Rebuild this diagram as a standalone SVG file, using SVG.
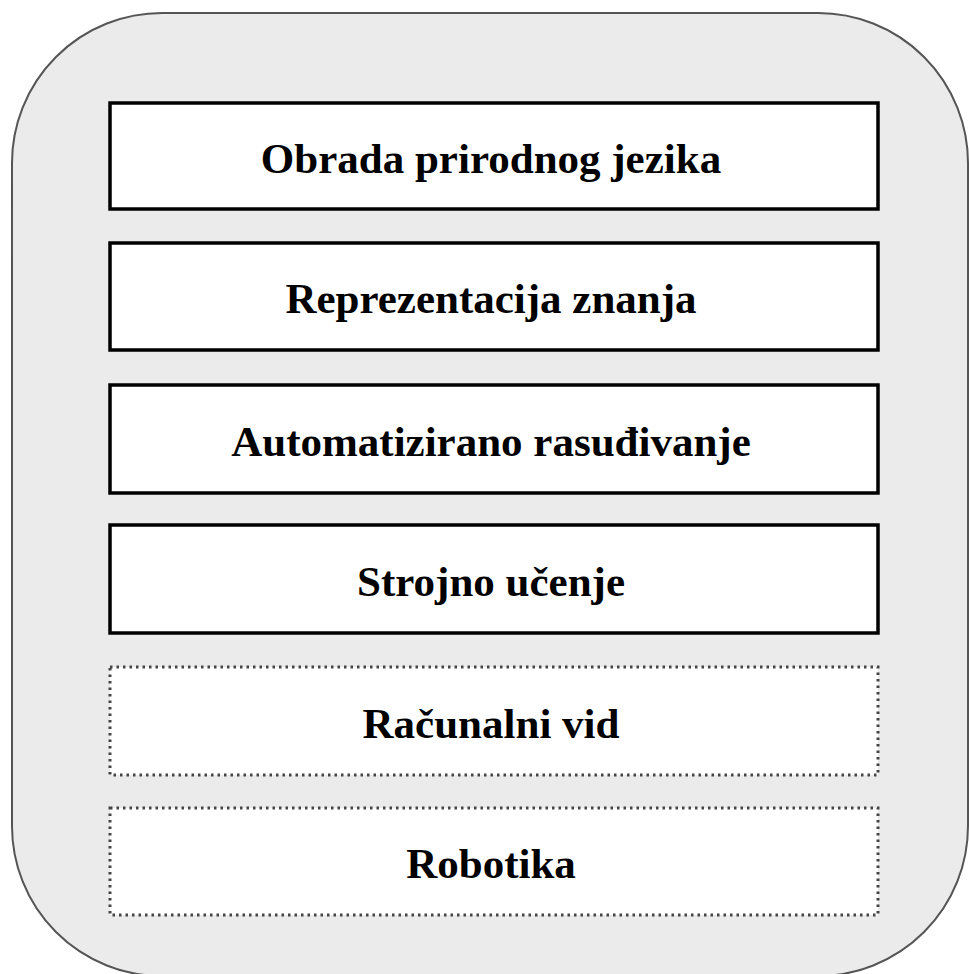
<svg xmlns="http://www.w3.org/2000/svg" width="969" height="974" viewBox="0 0 969 974">
<style>
.solid{fill:#fff;stroke:#000;stroke-width:3.5}
.dotted{fill:#fff;stroke:#444;stroke-width:3;stroke-dasharray:2.5 4}
.lbl{font-family:"Liberation Serif","Times New Roman",serif;font-weight:bold;font-size:43px;fill:#000;text-anchor:middle}
</style>
<rect width="969" height="974" fill="#fff"/>
<g id="container">
<rect x="12" y="13" width="956" height="963" rx="150" ry="150" fill="#ebebeb" stroke="#555" stroke-width="2"/>
</g>
<g id="n1"><rect class="solid" x="110" y="103" width="768" height="106"/><text class="lbl" x="491" y="173">Obrada prirodnog jezika</text></g>
<g id="n2"><rect class="solid" x="110" y="243" width="768" height="107"/><text class="lbl" x="491" y="313">Reprezentacija znanja</text></g>
<g id="n3"><rect class="solid" x="110" y="385" width="768" height="108"/><text class="lbl" x="491" y="456">Automatizirano rasuđivanje</text></g>
<g id="n4"><rect class="solid" x="110" y="525" width="768" height="108"/><text class="lbl" x="491" y="596">Strojno učenje</text></g>
<g id="n5"><rect class="dotted" x="110" y="667" width="768" height="108"/><text class="lbl" x="491" y="738">Računalni vid</text></g>
<g id="n6"><rect class="dotted" x="110" y="808" width="768" height="107"/><text class="lbl" x="491" y="878">Robotika</text></g>
<g id="connectors"></g>
</svg>
